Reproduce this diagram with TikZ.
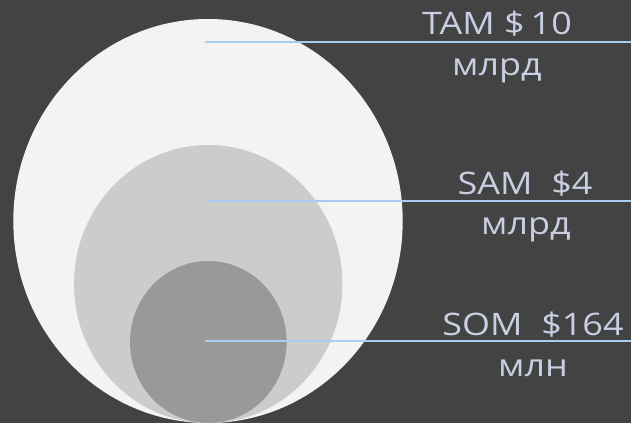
\documentclass[tikz,border=0pt]{standalone}
\usepackage{fontspec}
\setmainfont{Open Sans}
\definecolor{bg}{HTML}{434343}
\definecolor{tam}{HTML}{F3F3F3}
\definecolor{sam}{HTML}{CCCCCC}
\definecolor{som}{HTML}{999999}
\definecolor{lead}{HTML}{A9CDF2}
\definecolor{txt}{HTML}{C8CFE2}
\newcommand{\widetxt}[1]{\scalebox{1.16}[1]{#1}}
\begin{document}
\begin{tikzpicture}[x=1pt,y=1pt,
  leader/.style={draw=lead,line width=1.8pt},
  lbl/.style={text=txt,font=\fontsize{31}{36}\selectfont,anchor=base,inner sep=0pt}]
\fill[bg] (0,0) rectangle (631,423);
\useasboundingbox (0,0) rectangle (631,423);
\begin{scope}
\clip (0,0) rectangle (631,423);
\fill[tam] (208,202) ellipse [x radius=194.7,y radius=202];
\fill[sam] (208.2,139) ellipse [x radius=134.2,y radius=139];
\fill[som] (208.3,81) ellipse [x radius=78.3,y radius=81];
\end{scope}
\coordinate (t1) at (204.5,381);
\coordinate (t2) at (631,381);
\coordinate (s1) at (204.5,222);
\coordinate (s2) at (631,222);
\coordinate (o1) at (204.5,82.3);
\coordinate (o2) at (631,82.3);
\draw[leader] (t1) -- (t2);
\draw[leader] (s1) -- (s2);
\draw[leader] (o1) -- (o2);
\node[lbl] (tamA) at (497,388) {\widetxt{TAM \$\,10}};
\node[lbl] (tamB) at (497,347) {\widetxt{млрд}};
\node[lbl] (samA) at (525,228.7) {\widetxt{SAM\ \ \$4}};
\node[lbl] (samB) at (526,188) {\widetxt{млрд}};
\node[lbl] (somA) at (533,88) {\widetxt{SOM\ \ \$164}};
\node[lbl] (somB) at (533,46.3) {\widetxt{млн}};
\end{tikzpicture}
\end{document}
